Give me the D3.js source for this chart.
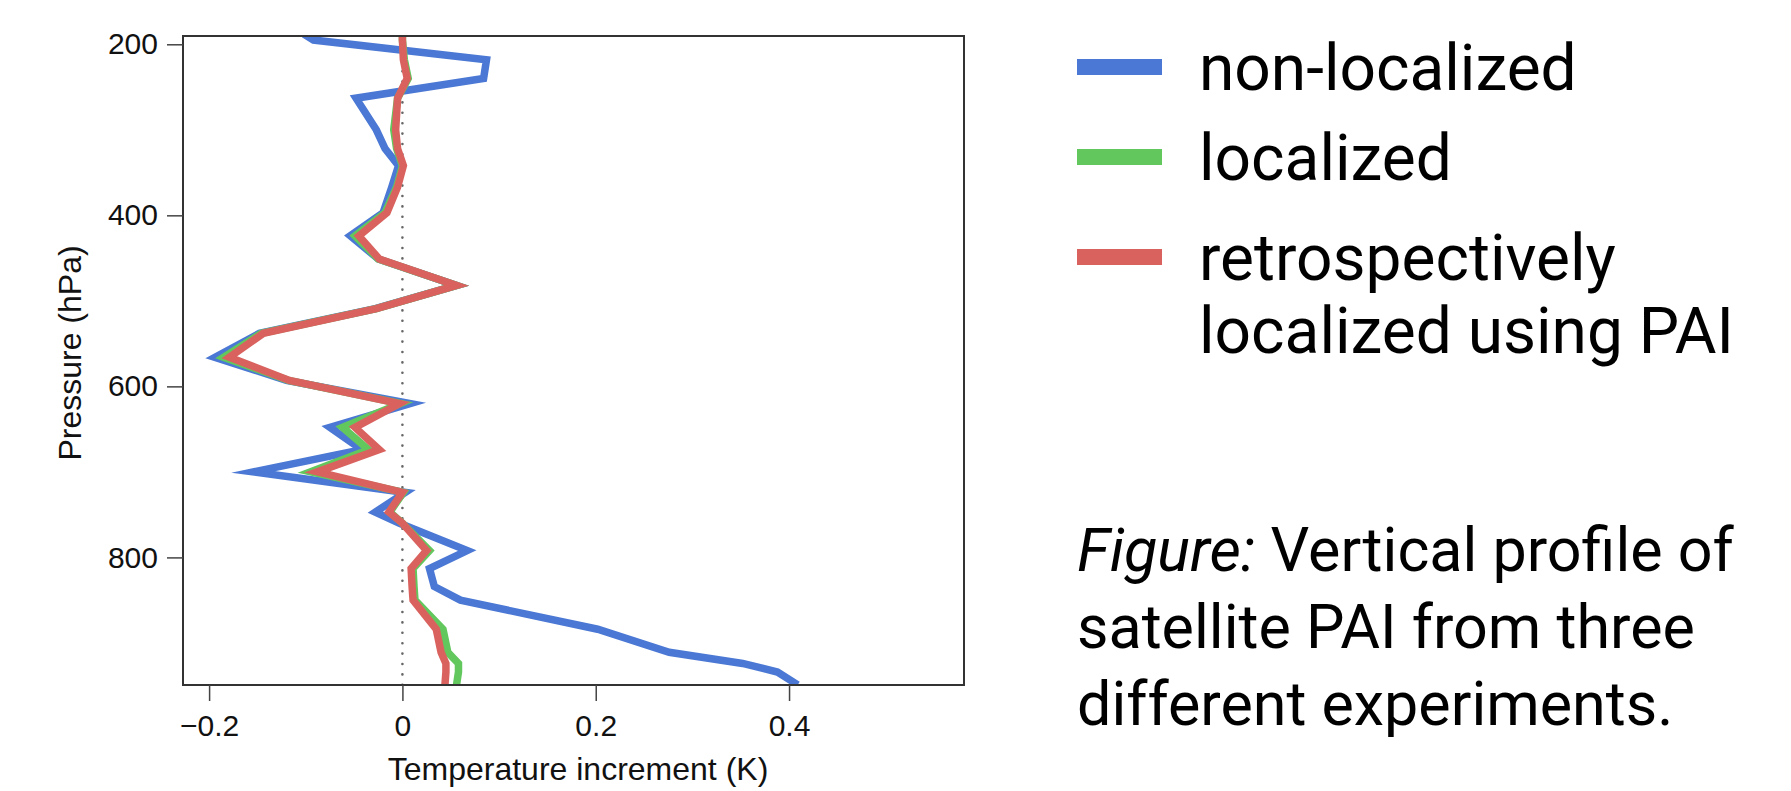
<!DOCTYPE html>
<html>
<head>
<meta charset="utf-8">
<script src="https://cdn.jsdelivr.net/npm/d3@7"></script>
<style>
  body { margin: 0; background: #fff; }
  svg { display: block; }
  .axis text { font-family: "Liberation Sans", Arial, sans-serif; font-size: 30px; fill: #111; }
  .axis path, .axis line { stroke: #444; stroke-width: 1.5; }
  .note { font-family: Roboto, "Noto Sans", sans-serif; fill: #000; }
</style>
</head>
<body>
<div id="container"></div>
<script>
const width = 1791, height = 791;

// pressure levels (hPa), shared by the three runs
const levels = [188, 195, 218, 240, 263, 300, 322, 342, 367, 397, 424, 451, 482, 509, 538, 566,
  593, 620, 648, 674, 700, 724, 747, 760, 792, 813, 834, 850, 884, 911, 924, 934, 949];

// temperature increment (K) for each run
const nonLocalized = [-0.102, -0.092, 0.087, 0.084, -0.048, -0.027, -0.018, -0.004, -0.011, -0.020, -0.054,
  -0.025, 0.056, -0.028, -0.148, -0.194, -0.120, 0.008, -0.075, -0.042, -0.154, 0.003, -0.028, -0.003,
  0.067, 0.028, 0.033, 0.060, 0.202, 0.276, 0.352, 0.388, 0.409];
const localized = [0.000, 0.000, 0.002, 0.006, -0.005, -0.009, -0.006, 0.000, -0.006, -0.018, -0.049,
  -0.025, 0.056, -0.027, -0.146, -0.185, -0.118, -0.002, -0.062, -0.035, -0.095, 0.001, -0.013, 0.000,
  0.028, 0.011, 0.012, 0.013, 0.042, 0.047, 0.058, 0.058, 0.056];
const retroLocalized = [0.000, 0.000, 0.001, 0.005, -0.005, -0.007, -0.005, 0.001, -0.005, -0.016, -0.045,
  -0.024, 0.056, -0.027, -0.144, -0.179, -0.117, -0.003, -0.049, -0.024, -0.088, 0.000, -0.014, 0.000,
  0.025, 0.009, 0.010, 0.011, 0.035, 0.040, 0.045, 0.045, 0.044];

const seriesNames = ["non-localized", "localized", "retrospectively|localized using PAI"];
const seriesColors = ["#4a78d4", "#62c85e", "#d9625f"];
const xTicks = [-0.2, 0, 0.2, 0.4];
const yTicks = [200, 400, 600, 800];
const caption = ["Figure:| Vertical profile of", "satellite PAI from three", "different experiments."];

const plot = {left: 183, right: 964, top: 36, bottom: 685};

const x = d3.scaleLinear().domain([-0.227, 0.581]).range([plot.left, plot.right]);
const y = d3.scaleLinear().domain([190.3, 949.2]).range([plot.top, plot.bottom]);

const svg = d3.select("#container").append("svg")
    .attr("width", width)
    .attr("height", height);

svg.append("defs").append("clipPath").attr("id", "clip")
    .append("rect")
    .attr("x", plot.left).attr("y", plot.top)
    .attr("width", plot.right - plot.left).attr("height", plot.bottom - plot.top);

// zero line
svg.append("line")
    .attr("x1", x(0)).attr("x2", x(0))
    .attr("y1", plot.top + 4).attr("y2", plot.bottom)
    .attr("stroke", "#666")
    .attr("stroke-width", 2.6)
    .attr("stroke-linecap", "round")
    .attr("stroke-dasharray", "0,10.4");

const line = d3.line()
    .x(d => x(d[1]))
    .y(d => y(d[0]));

const runs = [nonLocalized, localized, retroLocalized];

svg.append("g").attr("clip-path", "url(#clip)")
    .selectAll("path")
    .data(runs)
    .enter()
    .append("path")
    .attr("d", vals => line(levels.map((p, i) => [p, vals[i]])))
    .attr("fill", "none")
    .attr("stroke", (d, i) => seriesColors[i])
    .attr("stroke-width", 7.5)
    .attr("stroke-linejoin", "miter")
    .attr("stroke-miterlimit", 10);

// box
svg.append("rect")
    .attr("x", plot.left).attr("y", plot.top)
    .attr("width", plot.right - plot.left).attr("height", plot.bottom - plot.top)
    .attr("fill", "none")
    .attr("stroke", "#333")
    .attr("stroke-width", 2);

const fmt = d => d < 0 ? "\u2212" + Math.abs(d) : String(d);

svg.append("g")
    .attr("class", "axis")
    .attr("transform", `translate(0,${plot.bottom})`)
    .call(d3.axisBottom(x).tickValues(xTicks).tickFormat(fmt).tickSize(16).tickPadding(14).tickSizeOuter(0))
    .call(g => g.select(".domain").remove());

svg.append("g")
    .attr("class", "axis")
    .attr("transform", `translate(${plot.left},0)`)
    .call(d3.axisLeft(y).tickValues(yTicks).tickSize(16).tickPadding(9).tickSizeOuter(0))
    .call(g => g.select(".domain").remove());

svg.append("text")
    .attr("x", 578).attr("y", 780)
    .attr("text-anchor", "middle")
    .style("font-family", '"Liberation Sans", Arial, sans-serif')
    .style("font-size", "32px")
    .style("fill", "#111")
    .text("Temperature increment (K)");

svg.append("text")
    .attr("transform", "translate(81,353) rotate(-90)")
    .attr("text-anchor", "middle")
    .style("font-family", '"Liberation Sans", Arial, sans-serif')
    .style("font-size", "32px")
    .style("fill", "#111")
    .text("Pressure (hPa)");

// legend
const legendY = [90, 180, 280];
const legend = svg.append("g");
seriesNames.forEach((name, i) => {
    legend.append("rect")
        .attr("x", 1077).attr("y", legendY[i] - 31)
        .attr("width", 85).attr("height", 16)
        .attr("fill", seriesColors[i]);
    name.split("|").forEach((part, j) => {
        legend.append("text")
            .attr("class", "note")
            .style("font-size", "64px")
            .attr("x", 1199)
            .attr("y", legendY[i] + j * 73)
            .text(part);
    });
});

// caption
caption.forEach((row, i) => {
    const t = svg.append("text")
        .attr("class", "note")
        .style("font-size", "61px")
        .attr("x", 1077)
        .attr("y", 571 + i * 77);
    const parts = row.split("|");
    if (parts.length > 1) {
        t.append("tspan").style("font-style", "italic").text(parts[0]);
        t.append("tspan").text(parts[1]);
    } else {
        t.text(row);
    }
});
</script>
</body>
</html>
